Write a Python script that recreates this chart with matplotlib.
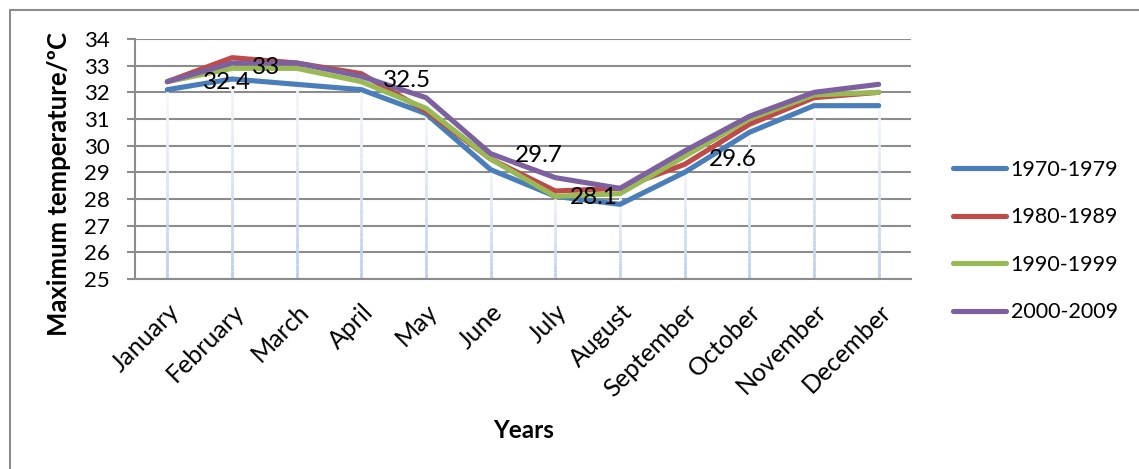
import numpy as np
import matplotlib
matplotlib.use("Agg")
import matplotlib.pyplot as plt
from matplotlib.collections import LineCollection

plt.rcParams['font.family'] = ['Lato', 'DejaVu Sans']

months = ["January", "February", "March", "April", "May", "June", "July",
          "August", "September", "October", "November", "December"]
decades = ["1970-1979", "1980-1989", "1990-1999", "2000-2009"]
t_1970s = [32.1, 32.5, 32.3, 32.1, 31.2, 29.1, 28.1, 27.8, 29.0, 30.5, 31.5, 31.5]
t_1980s = [32.4, 33.3, 33.1, 32.7, 31.3, 29.5, 28.3, 28.4, 29.3, 30.8, 31.8, 32.0]
t_1990s = [32.4, 32.9, 32.9, 32.4, 31.4, 29.5, 28.1, 28.2, 29.6, 31.0, 31.9, 32.0]
t_2000s = [32.4, 33.1, 33.1, 32.6, 31.8, 29.7, 28.8, 28.4, 29.8, 31.1, 32.0, 32.3]
series = [t_1970s, t_1980s, t_1990s, t_2000s]
colors = ["#4a7ebb", "#be4b48", "#98b954", "#7d60a0"]

# annotated values and where they sit (category index, temperature)
note_text = ["32.4", "33", "32.5", "29.7", "28.1", "29.6"]
note_x = [0.92, 1.53, 3.70, 5.74, 6.59, 8.75]
note_y = [32.36, 32.92, 32.43, 29.63, 28.07, 29.49]

W, H = 1139, 469
fig = plt.figure(figsize=(W/100, H/100), dpi=100)
ax = fig.add_axes([135/W, 1 - 279/H, (911-135)/W, (279-39)/H])

x = np.arange(len(months))
ymin, ymax = 25, 34

# drop lines from the highest series down to the axis, fading upwards
top = np.max(np.array(series), axis=0)
for xi, yt in zip(x, top):
    ys = np.linspace(ymin, yt, 30)
    segs = [[(xi, ys[i]), (xi, ys[i+1])] for i in range(len(ys)-1)]
    frac = np.linspace(1, 0, len(segs))
    cols = [(0.74 + 0.24*(1-f), 0.81 + 0.17*(1-f), 0.93 + 0.06*(1-f)) for f in frac]
    ax.add_collection(LineCollection(segs, colors=cols, linewidths=2.0, zorder=1))

for vals, c, lab in zip(series, colors, decades):
    ax.plot(x, vals, color=c, lw=3.7, label=lab, zorder=3, solid_capstyle='round',
            solid_joinstyle='round')

for t, nx, ny in zip(note_text, note_x, note_y):
    ax.text(nx, ny, t, ha='center', va='center', fontsize=17.5, color='black', zorder=5)

ax.set_xlim(-0.5, len(months) - 0.5)
ax.set_ylim(ymin, ymax)
ax.set_yticks(np.arange(25, 35, 1))
ax.yaxis.grid(True, color='#8c8c8c', lw=1.5)
ax.set_axisbelow(True)
ax.set_xticks(x)
ax.set_xticklabels(months, rotation=45, ha='right', rotation_mode='anchor', fontsize=18)
ax.tick_params(axis='x', length=0, pad=15)
ax.tick_params(axis='y', labelsize=16, length=6, width=1.5, color='#8c8c8c', pad=12)
for s in ['top', 'right']:
    ax.spines[s].set_visible(False)
for s in ['left', 'bottom']:
    ax.spines[s].set_color('#8c8c8c')
    ax.spines[s].set_linewidth(1.5)

fig.text(59/W, 1 - 184/H, "Maximum temperature/ºC", rotation=90, ha='center', va='center',
         fontsize=18.5, fontweight='bold')
fig.text(524/W, 1 - 430/H, "Years", ha='center', va='center', fontsize=17.5,
         fontweight='bold')

leg = fig.legend(loc='upper left', bbox_to_anchor=(944/W, 1 - 151/H), frameon=False,
                 fontsize=15.5, handlelength=2.5, handletextpad=0.2, labelspacing=1.28,
                 borderaxespad=0)
for h in leg.get_lines():
    h.set_linewidth(3.7)

# chart border (left and top edges visible)
fig.patches.append(plt.Rectangle((9.5/W, -0.1), 1.2, 1 - 10/H + 0.1, transform=fig.transFigure,
                                 fill=False, edgecolor='#8c8c8c', lw=1.5))

fig.savefig("out.png", dpi=100)
